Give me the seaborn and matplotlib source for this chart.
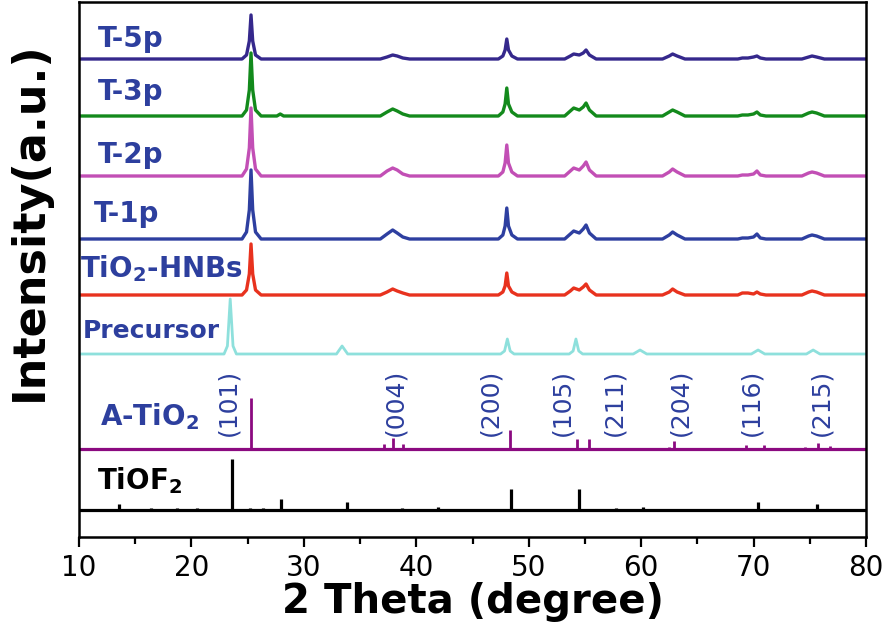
import numpy as np
import pandas as pd
import matplotlib
matplotlib.use("Agg")
import matplotlib.pyplot as plt
import seaborn as sns

# 2 theta grid shared by the anatase samples
two_theta = [10, 24.5, 24.9, 25.15, 25.3, 25.45, 25.7, 26.2,
             27.6, 27.9, 28.2,
             36.8, 37.4, 37.9, 38.3, 38.8, 39.4,
             47.3, 47.7, 47.9, 48.05, 48.2, 48.5, 49.0,
             53.2, 53.7, 54.0, 54.5, 54.85, 55.1, 55.4, 56.0,
             61.9, 62.5, 62.8, 63.2, 63.9,
             68.6, 69.0, 69.5, 70.0, 70.3, 70.6, 71.1,
             74.3, 74.9, 75.2, 75.6, 76.3,
             80]

# intensities (arbitrary units, above each curve's baseline)
t5p = [0, 0, 4, 18, 44, 18, 4, 0,
       0, 0, 0,
       0, 2, 4, 3, 1, 0,
       0, 3, 9, 20, 9, 3, 0,
       0, 3, 5, 4, 6, 9, 4, 0,
       0, 3, 5, 3, 0,
       0, 1, 1, 2, 3, 1, 0,
       0, 2, 3, 2, 0,
       0]
t3p = [0, 0, 6, 26, 63, 26, 6, 0,
       0, 2, 0,
       0, 4, 7, 5, 2, 0,
       0, 4, 12, 28, 12, 4, 0,
       0, 5, 8, 6, 9, 13, 6, 0,
       0, 4, 6, 4, 0,
       0, 1, 1, 2, 4, 1, 0,
       0, 3, 4, 3, 0,
       0]
t2p = [0, 0, 7, 28, 68, 28, 7, 0,
       0, 0, 0,
       0, 5, 8, 6, 2, 0,
       0, 4, 13, 31, 13, 4, 0,
       0, 5, 8, 6, 10, 14, 6, 0,
       0, 4, 7, 4, 0,
       0, 1, 1, 2, 5, 1, 0,
       0, 3, 4, 3, 0,
       0]
t1p = [0, 0, 7, 29, 69, 29, 7, 0,
       0, 0, 0,
       0, 5, 9, 6, 2, 0,
       0, 4, 13, 31, 13, 4, 0,
       0, 5, 8, 6, 10, 14, 6, 0,
       0, 4, 7, 4, 0,
       0, 1, 1, 2, 5, 1, 0,
       0, 3, 4, 3, 0,
       0]
hnbs = [0, 0, 5, 21, 51, 21, 5, 0,
        0, 0, 0,
        0, 3, 6, 4, 2, 0,
        0, 3, 9, 22, 9, 3, 0,
        0, 4, 7, 5, 8, 11, 5, 0,
        0, 3, 6, 3, 0,
        0, 2, 2, 1, 3, 1, 0,
        0, 3, 4, 3, 0,
        0]

# precursor pattern
precursor_x = [10, 22.9, 23.2, 23.45, 23.7, 24.0, 32.9, 33.4, 33.9,
               47.5, 47.85, 48.1, 48.35, 48.7, 53.6, 53.95, 54.2, 54.45, 54.8,
               59.3, 59.9, 60.5, 69.8, 70.4, 71.0, 74.7, 75.3, 75.9, 80]
precursor_y = [0, 0, 8, 55, 8, 0, 0, 8, 0,
               0, 3, 15, 3, 0, 0, 3, 15, 3, 0,
               0, 4, 0, 0, 4, 0, 0, 4, 0, 0]

# reference stick patterns
anatase_pos = [25.3, 37.1, 37.95, 38.8, 48.3, 54.3, 55.4, 62.5, 62.95,
               69.3, 70.9, 74.6, 75.7, 76.8]
anatase_h = [51, 5, 11, 5, 19, 10, 10, 2, 8, 4, 4, 2, 6, 3]
hkl_labels = ["(101)", "(004)", "(200)", "(105)", "(211)", "(204)", "(116)", "(215)"]
hkl_pos = [23.3, 38.1, 46.6, 53.0, 57.6, 63.5, 69.8, 76.0]

tiof2_pos = [13.6, 16.4, 18.7, 20.5, 23.6, 25.2, 26.4, 28.0, 33.8, 38.7,
             41.9, 48.4, 54.5, 57.8, 60.2, 63.0, 70.4, 75.6]
tiof2_h = [6, 2, 2, 2, 51, 2, 2, 11, 8, 2, 3, 21, 21, 2, 3, 1, 8, 6]

# ---- styling / layout ----
sns.set_style("ticks")
plt.rcParams['font.family'] = ['DejaVu Sans']
plt.rcParams['mathtext.default'] = 'regular'
plt.rcParams['text.color'] = 'black'
plt.rcParams['axes.labelcolor'] = 'black'
plt.rcParams['xtick.color'] = 'black'

label_color = "#2d3f9e"

fig = plt.figure(figsize=(8.86, 6.33), dpi=100)
ax = fig.add_axes([79 / 886, 1 - 537 / 633, 787 / 886, 535 / 633])

samples = [
    ("T-5p", t5p, "#35288c", 478, 11.7, 490),
    ("T-3p", t3p, "#138a1c", 421, 11.7, 437),
    ("T-2p", t2p, "#c24fb5", 361, 11.7, 374),
    ("T-1p", t1p, "#2e3fa0", 298, 11.3, 315),
    ("TiO$_2$-HNBs", hnbs, "#e8321e", 242, 10.1, 260),
]
for name, vals, col, base, lx, ly in samples:
    df = pd.DataFrame({"x": two_theta, "y": np.array(vals) + base})
    sns.lineplot(data=df, x="x", y="y", color=col, lw=2.4, ax=ax,
                 legend=False, sort=False)
    ax.text(lx, ly, name, color=label_color, fontsize=20, fontweight="bold",
            ha="left", va="baseline")

prec = pd.DataFrame({"x": precursor_x, "y": np.array(precursor_y) + 183})
sns.lineplot(data=prec, x="x", y="y", color="#8ee0dc", lw=2.0, ax=ax,
             legend=False, sort=False)
ax.text(10.35, 199, "Precursor", color=label_color, fontsize=18,
        fontweight="bold", ha="left", va="baseline")

# A-TiO2 sticks
ax.axhline(88, color="#8b0a80", lw=2.3)
ax.vlines(anatase_pos, 88, 88 + np.array(anatase_h), color="#8b0a80", lw=2.0)
ax.text(11.9, 112, "A-TiO$_2$", color=label_color, fontsize=20,
        fontweight="bold", ha="left", va="baseline")
for lab, px in zip(hkl_labels, hkl_pos):
    ax.text(px, 135, lab, color=label_color, fontsize=18, rotation=90,
            ha="center", va="center")

# TiOF2 sticks
ax.axhline(27, color="black", lw=2.3)
ax.vlines(tiof2_pos, 27, 27 + np.array(tiof2_h), color="black", lw=2.3)
ax.text(11.6, 48, "TiOF$_2$", color="black", fontsize=20,
        fontweight="bold", ha="left", va="baseline")

ax.set_xlim(10, 80)
ax.set_ylim(0, 535)
ax.set_xticks(range(10, 81, 10))
ax.set_xticks(range(15, 80, 10), minor=True)
ax.set_yticks([])
ax.tick_params(axis="x", which="major", direction="out", length=7, width=1.6,
               labelsize=20, pad=5, colors="black")
ax.tick_params(axis="x", which="minor", direction="out", length=5, width=1.6)
for s in ax.spines.values():
    s.set_linewidth(1.8)
    s.set_color("black")

ax.set_xlabel("2 Theta (degree)", fontsize=29, fontweight="bold", labelpad=0)
ax.set_ylabel("Intensity(a.u.)", fontsize=32, fontweight="bold")
ax.yaxis.set_label_coords(-0.036, 0.59)

fig.savefig("out.png", dpi=100)
